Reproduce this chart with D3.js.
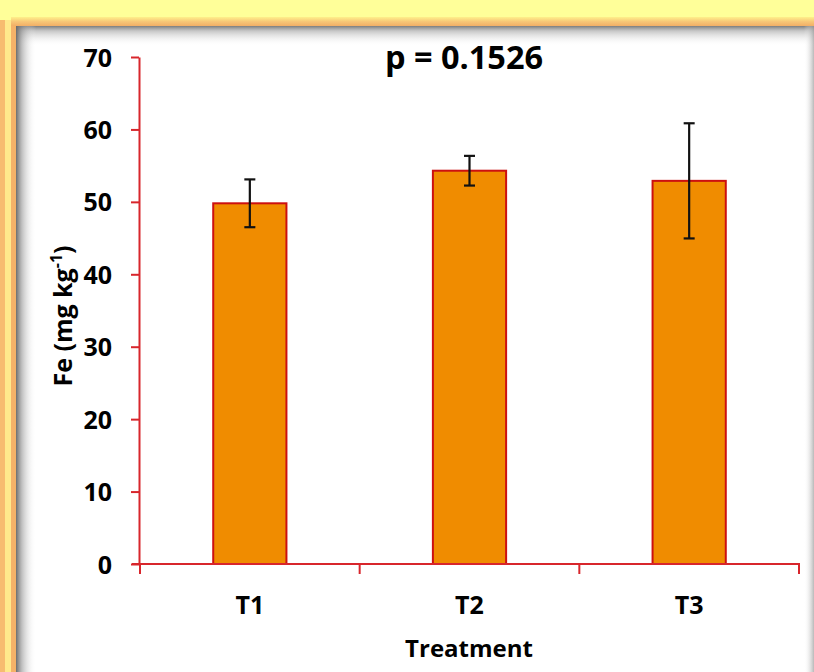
<!DOCTYPE html>
<html>
<head>
<meta charset="utf-8">
<script src="https://cdn.jsdelivr.net/npm/d3@7"></script>
<style>
  html, body { margin: 0; padding: 0; background: #FFFF99; }
  svg { display: block; }
  text { font-family: "Open Sans", "DejaVu Sans", sans-serif; font-weight: 700; fill: #000; }
</style>
</head>
<body>
<svg id="chart" width="814" height="672"></svg>
<script>
// Fe content per treatment: means and error half-widths
const categories = ["T1", "T2", "T3"];
const means = [49.8, 54.3, 52.9];
const errors = [3.3, 2.05, 7.95];
const yTicks = [0, 10, 20, 30, 40, 50, 60, 70];
const title = "p = 0.1526";
const xTitle = "Treatment";

const W = 814, H = 672;
const svg = d3.select("#chart");
const defs = svg.append("defs");

// ---- frame: yellow page, orange trim, white panel with soft inner shadow
function grad(id, x2, y2, stops) {
  const g = defs.append("linearGradient").attr("id", id)
    .attr("x1", 0).attr("y1", 0).attr("x2", x2).attr("y2", y2);
  stops.forEach(([o, c, a]) => g.append("stop").attr("offset", o)
    .attr("stop-color", c).attr("stop-opacity", a));
}
grad("trimTop", 0, 1, [[0, "#FFF08A", 1], [0.5, "#F8C777", 1], [1, "#F2AE66", 1]]);
grad("shadowTop", 0, 1, [[0, "#6E6E6E", 0.9], [0.25, "#9A9A9A", 0.55], [1, "#FFFFFF", 0]]);
grad("shadowLeft", 1, 0, [[0, "#666666", 0.95], [0.3, "#8E8E8E", 0.55], [1, "#FFFFFF", 0]]);
grad("shadowRight", 1, 0, [[0, "#FFFFFF", 0], [1, "#9A9A9A", 0.7]]);

svg.append("rect").attr("width", W).attr("height", H).attr("fill", "#FFFF99");
svg.append("rect").attr("x", 0).attr("y", 20).attr("width", 5).attr("height", H - 20).attr("fill", "#F7BC70");
svg.append("rect").attr("x", 5).attr("y", 20).attr("width", 7).attr("height", H - 20).attr("fill", "#FFE98C");
svg.append("rect").attr("x", 11).attr("y", 17).attr("width", 6).attr("height", H - 17).attr("fill", "#F5B268");
svg.append("rect").attr("x", 11).attr("y", 17).attr("width", W - 11).attr("height", 9).attr("fill", "url(#trimTop)");
svg.append("rect").attr("x", 16).attr("y", 26).attr("width", W - 16).attr("height", H - 26).attr("fill", "#FFFFFF");
svg.append("rect").attr("x", 16).attr("y", 26).attr("width", W - 16).attr("height", 20).attr("fill", "url(#shadowTop)");
svg.append("rect").attr("x", 16).attr("y", 26).attr("width", 20).attr("height", H - 26).attr("fill", "url(#shadowLeft)");
svg.append("rect").attr("x", 804).attr("y", 26).attr("width", 10).attr("height", H - 26).attr("fill", "url(#shadowRight)");

// ---- scales
const plot = { left: 140, right: 799, top: 57, bottom: 564 };
const y = d3.scaleLinear().domain([0, 70]).range([plot.bottom, plot.top]);
const x = d3.scaleBand().domain(categories).range([plot.left, plot.right]).padding(0);
const barW = x.bandwidth() / 3;
const axisColor = "#D8262C";

// ---- y axis
const yAxis = svg.append("g").attr("transform", `translate(${plot.left - 1},0)`)
  .call(d3.axisLeft(y).tickValues(yTicks).tickSize(8).tickSizeOuter(0).tickPadding(19));
yAxis.select(".domain").attr("stroke", axisColor).attr("stroke-width", 2);
yAxis.selectAll(".tick line").attr("stroke", axisColor).attr("stroke-width", 2);
yAxis.selectAll(".tick text").attr("font-size", 25).attr("font-family", null).attr("dy", "0.36em");

// ---- bars
svg.append("g").selectAll("rect").data(categories).join("rect")
  .attr("x", (d) => x(d) + x.bandwidth() / 2 - barW / 2)
  .attr("y", (d, i) => y(means[i]))
  .attr("width", barW)
  .attr("height", (d, i) => y(0) - y(means[i]))
  .attr("fill", "#F08C00")
  .attr("stroke", "#CC1010")
  .attr("stroke-width", 2);

// ---- x axis (drawn over bar bottoms), ticks at category boundaries
const xg = svg.append("g");
xg.append("line").attr("x1", plot.left - 8).attr("x2", plot.right + 1)
  .attr("y1", y(0)).attr("y2", y(0)).attr("stroke", axisColor).attr("stroke-width", 2);
const bounds = categories.map((d) => x(d)).concat([x(categories[categories.length - 1]) + x.step()]);
xg.selectAll("line.tk").data(bounds).join("line").attr("class", "tk")
  .attr("x1", (d) => d).attr("x2", (d) => d)
  .attr("y1", y(0)).attr("y2", y(0) + 10)
  .attr("stroke", axisColor).attr("stroke-width", 2);
xg.selectAll("text").data(categories).join("text")
  .attr("x", (d) => x(d) + x.bandwidth() / 2)
  .attr("y", 614)
  .attr("text-anchor", "middle")
  .attr("font-size", 25)
  .text((d) => d);

// ---- error bars
const eb = svg.append("g").attr("stroke", "#111").attr("stroke-width", 2.2);
categories.forEach((c, i) => {
  const cx = x(c) + x.bandwidth() / 2;
  const hi = y(means[i] + errors[i]), lo = y(means[i] - errors[i]);
  eb.append("line").attr("x1", cx).attr("x2", cx).attr("y1", hi).attr("y2", lo);
  eb.append("line").attr("x1", cx - 5.5).attr("x2", cx + 5.5).attr("y1", hi).attr("y2", hi);
  eb.append("line").attr("x1", cx - 5.5).attr("x2", cx + 5.5).attr("y1", lo).attr("y2", lo);
});

// ---- titles
svg.append("text").attr("x", 464).attr("y", 69).attr("text-anchor", "middle")
  .attr("font-size", 32.5).text(title);
svg.append("text").attr("x", 469).attr("y", 657).attr("text-anchor", "middle")
  .attr("font-size", 24).text(xTitle);

const yl = svg.append("text").attr("transform", "translate(72,316) rotate(-90)")
  .attr("text-anchor", "middle").attr("font-size", 25);
yl.append("tspan").text("Fe (mg kg");
yl.append("tspan").attr("font-size", 16).attr("dy", -10).text("-1");
yl.append("tspan").attr("dy", 10).text(")");
</script>
</body>
</html>
